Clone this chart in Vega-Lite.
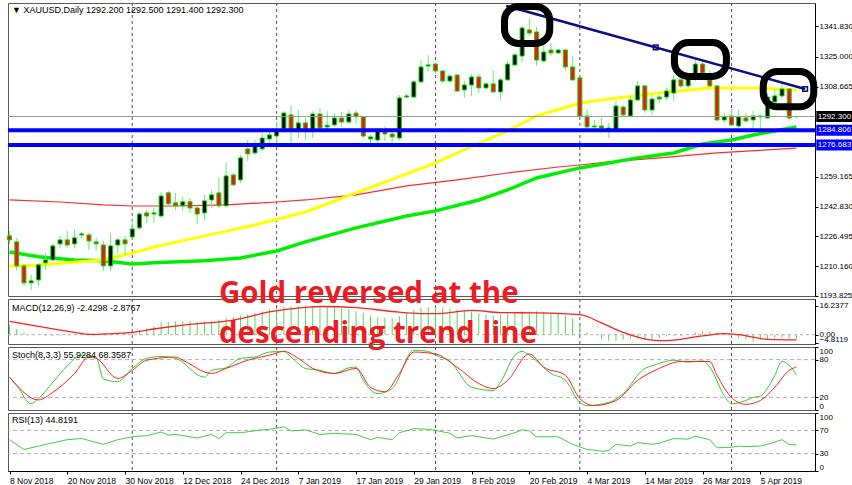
{
"$schema":"https://vega.github.io/schema/vega-lite/v6.json",
"background":"#ffffff",
"padding":{"left":2,"top":0,"right":0,"bottom":0},
"spacing":3,
"bounds":"flush",
"config":{"view":{"stroke":"#5a5a5a","strokeWidth":1},"axis":{"labelFont":"Liberation Sans","labelFontSize":8,"labelColor":"#000","domainColor":"#000","tickColor":"#000","grid":false,"labelOverlap":false,"labelBound":false},"text":{"font":"Liberation Sans"}},
"datasets":{
"candles":[
{"i":0,"o":1226.8,"h":1229.5,"l":1222.4,"c":1224.6},{"i":1,"o":1223.5,"h":1225.7,"l":1207.6,"c":1210.3},{"i":2,"o":1210.3,"h":1211.4,"l":1199.3,"c":1201.0},{"i":3,"o":1201.0,"h":1205.4,"l":1197.2,"c":1202.1},{"i":4,"o":1202.6,"h":1212.0,"l":1199.3,"c":1210.9},{"i":5,"o":1212.0,"h":1217.4,"l":1208.1,"c":1213.6},{"i":6,"o":1213.6,"h":1222.4,"l":1213.0,"c":1221.3},{"i":7,"o":1222.4,"h":1226.8,"l":1220.2,"c":1224.6},{"i":8,"o":1224.6,"h":1229.5,"l":1220.2,"c":1221.8},{"i":9,"o":1222.4,"h":1230.1,"l":1220.2,"c":1225.7},
{"i":10,"o":1227.3,"h":1229.0,"l":1225.1,"c":1227.9},{"i":11,"o":1227.3,"h":1228.4,"l":1219.1,"c":1224.0},{"i":12,"o":1223.5,"h":1225.7,"l":1218.5,"c":1222.4},{"i":13,"o":1221.8,"h":1224.0,"l":1207.6,"c":1210.3},{"i":14,"o":1210.3,"h":1228.4,"l":1207.6,"c":1221.3},{"i":15,"o":1221.8,"h":1225.7,"l":1217.4,"c":1224.6},{"i":16,"o":1224.6,"h":1226.8,"l":1216.3,"c":1222.4},{"i":17,"o":1226.2,"h":1235.6,"l":1224.6,"c":1230.6},{"i":18,"o":1231.2,"h":1239.9,"l":1230.1,"c":1238.8},{"i":19,"o":1239.4,"h":1241.0,"l":1233.9,"c":1237.7},
{"i":20,"o":1238.8,"h":1242.1,"l":1233.9,"c":1239.4},{"i":21,"o":1237.7,"h":1250.9,"l":1236.6,"c":1248.7},{"i":22,"o":1250.4,"h":1251.5,"l":1242.7,"c":1244.4},{"i":23,"o":1244.9,"h":1250.4,"l":1241.0,"c":1243.3},{"i":24,"o":1243.3,"h":1248.2,"l":1240.5,"c":1245.5},{"i":25,"o":1245.5,"h":1247.6,"l":1239.4,"c":1242.1},{"i":26,"o":1242.1,"h":1243.3,"l":1233.3,"c":1238.8},{"i":27,"o":1239.4,"h":1249.3,"l":1235.5,"c":1246.0},{"i":28,"o":1246.5,"h":1252.0,"l":1242.1,"c":1249.3},{"i":29,"o":1250.4,"h":1258.6,"l":1242.1,"c":1243.3},
{"i":30,"o":1243.3,"h":1266.8,"l":1242.7,"c":1259.7},{"i":31,"o":1260.2,"h":1261.3,"l":1254.2,"c":1254.8},{"i":32,"o":1257.5,"h":1271.2,"l":1255.9,"c":1269.6},{"i":33,"o":1274.5,"h":1279.4,"l":1267.9,"c":1271.8},{"i":34,"o":1272.3,"h":1279.4,"l":1271.2,"c":1276.2},{"i":35,"o":1274.5,"h":1284.4,"l":1274.0,"c":1280.5},{"i":36,"o":1280.0,"h":1284.9,"l":1276.7,"c":1282.2},{"i":37,"o":1281.6,"h":1289.3,"l":1277.8,"c":1284.4},{"i":38,"o":1285.5,"h":1295.3,"l":1284.9,"c":1294.2},{"i":39,"o":1293.2,"h":1298.6,"l":1276.2,"c":1284.9},
{"i":40,"o":1284.9,"h":1295.9,"l":1280.5,"c":1288.8},{"i":41,"o":1288.8,"h":1291.5,"l":1279.4,"c":1284.9},{"i":42,"o":1284.9,"h":1295.3,"l":1280.5,"c":1293.7},{"i":43,"o":1293.7,"h":1297.0,"l":1284.9,"c":1286.0},{"i":44,"o":1286.6,"h":1295.3,"l":1284.9,"c":1287.5},{"i":45,"o":1287.7,"h":1294.2,"l":1286.6,"c":1291.5},{"i":46,"o":1291.5,"h":1294.8,"l":1286.6,"c":1289.3},{"i":47,"o":1289.3,"h":1295.9,"l":1288.2,"c":1293.7},{"i":48,"o":1294.2,"h":1295.9,"l":1288.2,"c":1292.1},{"i":49,"o":1292.1,"h":1292.6,"l":1280.5,"c":1281.6},
{"i":50,"o":1280.0,"h":1282.2,"l":1276.2,"c":1281.1},{"i":51,"o":1279.4,"h":1286.0,"l":1276.7,"c":1284.9},{"i":52,"o":1284.9,"h":1287.1,"l":1278.9,"c":1282.7},{"i":53,"o":1282.7,"h":1284.9,"l":1277.8,"c":1281.1},{"i":54,"o":1280.5,"h":1304.1,"l":1279.4,"c":1302.5},{"i":55,"o":1303.0,"h":1304.7,"l":1302.5,"c":1303.6},{"i":56,"o":1303.0,"h":1312.4,"l":1302.5,"c":1311.3},{"i":57,"o":1311.3,"h":1323.3,"l":1310.7,"c":1319.5},{"i":58,"o":1320.0,"h":1326.1,"l":1317.3,"c":1320.6},{"i":59,"o":1321.1,"h":1321.7,"l":1315.6,"c":1317.3},
{"i":60,"o":1317.3,"h":1317.8,"l":1310.7,"c":1311.8},{"i":61,"o":1311.8,"h":1315.6,"l":1310.7,"c":1314.5},{"i":62,"o":1315.1,"h":1315.6,"l":1305.8,"c":1306.3},{"i":63,"o":1306.9,"h":1311.8,"l":1302.5,"c":1309.6},{"i":64,"o":1309.6,"h":1315.6,"l":1303.6,"c":1314.0},{"i":65,"o":1314.0,"h":1315.6,"l":1305.2,"c":1308.0},{"i":66,"o":1308.0,"h":1310.7,"l":1307.4,"c":1310.2},{"i":67,"o":1310.2,"h":1317.8,"l":1305.2,"c":1305.8},{"i":68,"o":1305.8,"h":1313.5,"l":1301.4,"c":1312.4},{"i":69,"o":1312.4,"h":1322.8,"l":1311.8,"c":1321.1},
{"i":70,"o":1320.6,"h":1327.2,"l":1320.0,"c":1326.1},{"i":71,"o":1325.5,"h":1342.0,"l":1322.2,"c":1340.9},{"i":72,"o":1339.8,"h":1346.4,"l":1336.5,"c":1338.1},{"i":73,"o":1338.7,"h":1341.4,"l":1320.0,"c":1323.3},{"i":74,"o":1322.8,"h":1332.7,"l":1322.2,"c":1327.7},{"i":75,"o":1328.8,"h":1332.7,"l":1325.5,"c":1327.2},{"i":76,"o":1327.2,"h":1329.4,"l":1326.6,"c":1328.8},{"i":77,"o":1328.8,"h":1329.4,"l":1317.8,"c":1319.5},{"i":78,"o":1319.5,"h":1325.5,"l":1311.8,"c":1312.4},{"i":79,"o":1313.5,"h":1314.5,"l":1292.1,"c":1292.6},
{"i":80,"o":1292.6,"h":1296.4,"l":1284.4,"c":1286.6},{"i":81,"o":1286.6,"h":1290.4,"l":1284.4,"c":1287.1},{"i":82,"o":1287.1,"h":1291.5,"l":1283.3,"c":1286.0},{"i":83,"o":1284.9,"h":1288.8,"l":1280.5,"c":1286.0},{"i":84,"o":1284.9,"h":1300.8,"l":1284.4,"c":1298.1},{"i":85,"o":1297.5,"h":1298.6,"l":1292.6,"c":1293.2},{"i":86,"o":1292.6,"h":1303.6,"l":1292.1,"c":1301.4},{"i":87,"o":1301.4,"h":1311.8,"l":1300.8,"c":1309.1},{"i":88,"o":1309.1,"h":1309.6,"l":1294.2,"c":1295.9},{"i":89,"o":1295.9,"h":1304.1,"l":1293.2,"c":1301.9},
{"i":90,"o":1303.0,"h":1304.1,"l":1299.7,"c":1301.9},{"i":91,"o":1303.0,"h":1308.0,"l":1301.4,"c":1306.3},{"i":92,"o":1305.2,"h":1315.1,"l":1300.8,"c":1312.4},{"i":93,"o":1312.4,"h":1316.2,"l":1308.0,"c":1309.1},{"i":94,"o":1309.1,"h":1316.2,"l":1308.0,"c":1314.5},{"i":95,"o":1315.1,"h":1324.4,"l":1311.8,"c":1321.1},{"i":96,"o":1321.1,"h":1323.3,"l":1315.1,"c":1316.2},{"i":97,"o":1312.4,"h":1317.8,"l":1308.5,"c":1309.1},{"i":98,"o":1309.1,"h":1309.6,"l":1289.9,"c":1290.4},{"i":99,"o":1290.4,"h":1294.2,"l":1288.8,"c":1292.1},
{"i":100,"o":1292.6,"h":1296.4,"l":1287.1,"c":1287.7},{"i":101,"o":1287.1,"h":1295.9,"l":1286.0,"c":1292.1},{"i":102,"o":1291.5,"h":1294.2,"l":1288.8,"c":1289.9},{"i":103,"o":1290.4,"h":1295.3,"l":1284.4,"c":1292.6},{"i":104,"o":1292.1,"h":1293.2,"l":1284.9,"c":1292.6},{"i":105,"o":1291.5,"h":1305.2,"l":1291.0,"c":1303.0},{"i":106,"o":1300.3,"h":1306.9,"l":1299.7,"c":1303.6},{"i":107,"o":1303.6,"h":1311.3,"l":1302.5,"c":1307.4},{"i":108,"o":1307.4,"h":1308.0,"l":1289.9,"c":1291.5},{"i":109,"o":1292.2,"h":1292.5,"l":1291.4,"c":1292.3}
],
"ma":[
{"s":"y","i":0,"v":1210.3},{"s":"y","i":4,"v":1210.8},{"s":"y","i":13,"v":1213.6},{"s":"y","i":17,"v":1217.4},{"s":"y","i":20,"v":1220.7},{"s":"y","i":27,"v":1226.8},{"s":"y","i":34,"v":1232.8},{"s":"y","i":41,"v":1239.9},{"s":"y","i":48,"v":1250.4},{"s":"y","i":55,"v":1260.8},{"s":"y","i":59,"v":1266.8},{"s":"y","i":62,"v":1272.3},{"s":"y","i":69,"v":1284.4},{"s":"y","i":73,"v":1292.6},{"s":"y","i":79,"v":1299.7},{"s":"y","i":83,"v":1301.9},{"s":"y","i":90,"v":1305.2},{"s":"y","i":97,"v":1308.0},{"s":"y","i":103,"v":1308.0},{"s":"y","i":109,"v":1306.9},
{"s":"g","i":0,"v":1218.0},{"s":"g","i":4,"v":1215.3},{"s":"g","i":9,"v":1213.6},{"s":"g","i":13,"v":1213.1},{"s":"g","i":17,"v":1211.4},{"s":"g","i":20,"v":1212.0},{"s":"g","i":27,"v":1213.1},{"s":"g","i":32,"v":1214.7},{"s":"g","i":37,"v":1218.5},{"s":"g","i":41,"v":1223.5},{"s":"g","i":48,"v":1231.2},{"s":"g","i":55,"v":1237.7},{"s":"g","i":59,"v":1240.5},{"s":"g","i":65,"v":1246.5},{"s":"g","i":69,"v":1252.0},{"s":"g","i":73,"v":1258.6},{"s":"g","i":79,"v":1264.1},{"s":"g","i":83,"v":1266.8},{"s":"g","i":87,"v":1269.6},{"s":"g","i":92,"v":1272.3},{"s":"g","i":96,"v":1277.2},{"s":"g","i":100,"v":1279.4},{"s":"g","i":103,"v":1282.2},{"s":"g","i":109,"v":1286.6},
{"s":"r","i":0,"v":1246.5},{"s":"r","i":7,"v":1245.4},{"s":"r","i":13,"v":1243.8},{"s":"r","i":17,"v":1243.2},{"s":"r","i":23,"v":1243.2},{"s":"r","i":30,"v":1243.8},{"s":"r","i":37,"v":1245.4},{"s":"r","i":41,"v":1246.5},{"s":"r","i":48,"v":1249.3},{"s":"r","i":55,"v":1254.2},{"s":"r","i":62,"v":1257.5},{"s":"r","i":69,"v":1261.3},{"s":"r","i":76,"v":1264.6},{"s":"r","i":79,"v":1265.7},{"s":"r","i":83,"v":1267.4},{"s":"r","i":90,"v":1269.6},{"s":"r","i":98,"v":1272.3},{"s":"r","i":109,"v":1275.0}
],
"macd":[
{"i":0,"m":5.6},{"i":1,"m":3.2},{"i":2,"m":1.3},{"i":3,"m":0.5},{"i":4,"m":0.1},{"i":5,"m":-0.6},{"i":6,"m":-0.8},{"i":7,"m":-0.6},{"i":8,"m":-0.3},{"i":9,"m":0.3},{"i":10,"m":0.8},{"i":11,"m":0.6},{"i":12,"m":0.4},{"i":13,"m":0.2},{"i":14,"m":0.5},{"i":15,"m":0.9},{"i":16,"m":1.3},{"i":17,"m":1.8},{"i":18,"m":2.8},{"i":19,"m":3.6},{"i":20,"m":4.7},{"i":21,"m":6.6},{"i":22,"m":7.2},{"i":23,"m":7.5},{"i":24,"m":7.6},{"i":25,"m":7.4},{"i":26,"m":7.2},{"i":27,"m":7.4},{"i":28,"m":7.8},{"i":29,"m":8.5},{"i":30,"m":9.5},{"i":31,"m":10.0},{"i":32,"m":10.8},{"i":33,"m":11.5},{"i":34,"m":12.2},{"i":35,"m":13.2},{"i":36,"m":14.2},{"i":37,"m":15.1},{"i":38,"m":15.7},{"i":39,"m":16.0},{"i":40,"m":16.2},{"i":41,"m":16.2},{"i":42,"m":16.2},{"i":43,"m":16.0},{"i":44,"m":15.6},{"i":45,"m":15.3},{"i":46,"m":14.9},{"i":47,"m":14.2},{"i":48,"m":13.2},{"i":49,"m":12.3},{"i":50,"m":10.8},{"i":51,"m":9.7},{"i":52,"m":9.5},{"i":53,"m":9.4},{"i":54,"m":10.4},{"i":55,"m":12.0},{"i":56,"m":14.0},{"i":57,"m":15.0},{"i":58,"m":15.5},{"i":59,"m":15.5},{"i":60,"m":15.0},{"i":61,"m":14.6},{"i":62,"m":14.0},{"i":63,"m":13.5},{"i":64,"m":12.9},{"i":65,"m":11.9},{"i":66,"m":11.3},{"i":67,"m":10.9},{"i":68,"m":11.3},{"i":69,"m":12.0},{"i":70,"m":12.5},{"i":71,"m":13.2},{"i":72,"m":13.2},{"i":73,"m":13.2},{"i":74,"m":12.8},{"i":75,"m":12.1},{"i":76,"m":11.6},{"i":77,"m":11.0},{"i":78,"m":9.2},{"i":79,"m":6.5},{"i":80,"m":1.4},{"i":81,"m":0.0},{"i":82,"m":-2.4},{"i":83,"m":-3.4},{"i":84,"m":-3.4},{"i":85,"m":-2.8},{"i":86,"m":-2.4},{"i":87,"m":-2.0},{"i":88,"m":-2.8},{"i":89,"m":-2.4},{"i":90,"m":-1.9},{"i":91,"m":-1.0},{"i":92,"m":-0.6},{"i":93,"m":-0.6},{"i":94,"m":0.0},{"i":95,"m":1.3},{"i":96,"m":1.8},{"i":97,"m":1.8},{"i":98,"m":0.9},{"i":99,"m":0.0},{"i":100,"m":-0.9},{"i":101,"m":-1.9},{"i":102,"m":-2.8},{"i":103,"m":-3.8},{"i":104,"m":-2.8},{"i":105,"m":-2.8},{"i":106,"m":-2.0},{"i":107,"m":-1.5},{"i":108,"m":-2.0},{"i":109,"m":-2.43}
],
"sig":[
{"i":0,"v":7.5},{"i":4,"v":4.7},{"i":9,"v":1.3},{"i":11,"v":0.2},{"i":13,"v":0.4},{"i":17,"v":1.3},{"i":20,"v":3.2},{"i":25,"v":5.8},{"i":30,"v":7.6},{"i":32,"v":9.0},{"i":36,"v":12.8},{"i":41,"v":15.3},{"i":43,"v":15.8},{"i":48,"v":15.2},{"i":53,"v":13.0},{"i":57,"v":11.8},{"i":59,"v":11.8},{"i":64,"v":13.6},{"i":68,"v":12.4},{"i":73,"v":12.2},{"i":79,"v":11.2},{"i":82,"v":6.6},{"i":85,"v":1.3},{"i":89,"v":-3.0},{"i":91,"v":-3.3},{"i":96,"v":-0.7},{"i":99,"v":0.6},{"i":101,"v":0.0},{"i":105,"v":-2.6},{"i":109,"v":-2.88}
],
"stk":[
{"i":0,"v":52},{"i":1,"v":39},{"i":3,"v":10},{"i":4,"v":18},{"i":6,"v":44},{"i":8,"v":70},{"i":10,"v":87},{"i":11,"v":86},{"i":12,"v":84},{"i":13,"v":49},{"i":15,"v":45},{"i":17,"v":66},{"i":19,"v":82},{"i":21,"v":85},{"i":23,"v":82},{"i":27,"v":52},{"i":28,"v":63},{"i":30,"v":67},{"i":32,"v":82},{"i":34,"v":84},{"i":36,"v":92},{"i":38,"v":93},{"i":39,"v":84},{"i":41,"v":66},{"i":43,"v":63},{"i":45,"v":58},{"i":47,"v":67},{"i":48,"v":68},{"i":49,"v":47},{"i":51,"v":26},{"i":53,"v":34},{"i":56,"v":95},{"i":58,"v":93},{"i":59,"v":87},{"i":61,"v":77},{"i":64,"v":36},{"i":67,"v":31},{"i":68,"v":44},{"i":70,"v":87},{"i":71,"v":93},{"i":72,"v":87},{"i":75,"v":58},{"i":77,"v":47},{"i":79,"v":12},{"i":80,"v":7},{"i":83,"v":12},{"i":85,"v":26},{"i":88,"v":66},{"i":89,"v":70},{"i":92,"v":79},{"i":94,"v":76},{"i":96,"v":78},{"i":97,"v":68},{"i":99,"v":23},{"i":100,"v":10},{"i":102,"v":15},{"i":103,"v":20},{"i":104,"v":22},{"i":105,"v":35},{"i":106,"v":55},{"i":107,"v":77},{"i":108,"v":71},{"i":109,"v":55.93}
],
"std":[
{"i":0,"v":52},{"i":1,"v":39},{"i":4,"v":16},{"i":6,"v":28},{"i":9,"v":58},{"i":11,"v":84},{"i":12,"v":82},{"i":15,"v":50},{"i":17,"v":63},{"i":19,"v":79},{"i":23,"v":84},{"i":24,"v":79},{"i":28,"v":58},{"i":30,"v":66},{"i":33,"v":79},{"i":36,"v":87},{"i":38,"v":93},{"i":40,"v":82},{"i":42,"v":66},{"i":45,"v":58},{"i":48,"v":66},{"i":50,"v":36},{"i":52,"v":29},{"i":54,"v":58},{"i":56,"v":92},{"i":59,"v":89},{"i":62,"v":68},{"i":65,"v":42},{"i":67,"v":34},{"i":69,"v":47},{"i":72,"v":89},{"i":74,"v":68},{"i":77,"v":55},{"i":79,"v":18},{"i":81,"v":7},{"i":84,"v":15},{"i":87,"v":47},{"i":90,"v":66},{"i":93,"v":77},{"i":97,"v":77},{"i":98,"v":55},{"i":100,"v":20},{"i":102,"v":9},{"i":104,"v":15},{"i":106,"v":36},{"i":108,"v":63},{"i":109,"v":68.36}
],
"rsi":[
{"i":0,"v":54},{"i":2,"v":37},{"i":4,"v":43},{"i":8,"v":54},{"i":10,"v":56},{"i":13,"v":46},{"i":15,"v":54},{"i":17,"v":59},{"i":19,"v":61},{"i":21,"v":67},{"i":22,"v":62},{"i":23,"v":63},{"i":26,"v":57},{"i":28,"v":63},{"i":29,"v":56},{"i":30,"v":66},{"i":32,"v":66},{"i":35,"v":71},{"i":36,"v":72},{"i":38,"v":76},{"i":39,"v":69},{"i":41,"v":71},{"i":43,"v":63},{"i":45,"v":65},{"i":48,"v":63},{"i":50,"v":54},{"i":51,"v":58},{"i":53,"v":54},{"i":54,"v":66},{"i":56,"v":73},{"i":58,"v":72},{"i":59,"v":70},{"i":61,"v":65},{"i":62,"v":57},{"i":64,"v":61},{"i":66,"v":57},{"i":67,"v":55},{"i":70,"v":66},{"i":71,"v":71},{"i":72,"v":69},{"i":73,"v":59},{"i":76,"v":59},{"i":78,"v":46},{"i":80,"v":37},{"i":81,"v":36},{"i":82,"v":34},{"i":83,"v":35},{"i":84,"v":46},{"i":86,"v":43},{"i":87,"v":49},{"i":89,"v":46},{"i":90,"v":48},{"i":92,"v":56},{"i":94,"v":55},{"i":95,"v":60},{"i":97,"v":54},{"i":98,"v":40},{"i":100,"v":41},{"i":101,"v":43},{"i":102,"v":42},{"i":104,"v":43},{"i":105,"v":46},{"i":107,"v":54},{"i":108,"v":46},{"i":109,"v":44.82}
],
"seps":[{"i":17},{"i":37},{"i":59},{"i":79},{"i":100}],
"levels":[{"k":"bid","p":1292.3},{"k":"s1","p":1284.806},{"k":"s2","p":1276.683}],
"trend":[{"i":68.8,"p":1353.0},{"i":110.2,"p":1307.4}],
"anchors":[{"i":89.5,"p":1330.2},{"i":110.2,"p":1307.4}],
"boxes":[{"a":68.56,"b":74.83,"p1":1352.7,"p2":1332.4},{"a":92.1,"b":99.3,"p1":1332.9,"p2":1314.3},{"a":104.4,"b":111.4,"p1":1317.0,"p2":1297.6}]
},
"vconcat":[
{"width":807,"height":293,
"layer":[
{"data":{"name":"seps"},"mark":{"type":"rule","stroke":"#555555","strokeDash":[3,3],"strokeWidth":1},"encoding":{"x":{"field":"i","type":"quantitative","scale":{"domain":[-0.21,111.57],"nice":false,"zero":false,"padding":0},"axis":null}}},
{"data":{"name":"ma"},"transform":[{"filter":"datum.s==='r'"}],"mark":{"type":"line","stroke":"#ff2a2a","strokeWidth":1.2},"encoding":{"x":{"field":"i","type":"quantitative","scale":{"domain":[-0.21,111.57],"nice":false,"zero":false,"padding":0},"axis":null},"y":{"field":"v","type":"quantitative","scale":{"domain":[1193.8,1354.6],"nice":false,"zero":false},"axis":{"orient":"right","title":null,"values":[1193.825,1210.16,1226.495,1242.83,1259.165,1308.665,1325,1341.83],"format":".3f","tickSize":3,"labelPadding":1,"labelOverlap":false,"labelBound":false,"grid":false}}}},
{"data":{"name":"ma"},"transform":[{"filter":"datum.s==='g'"}],"mark":{"type":"line","stroke":"#00ee00","strokeWidth":3.5},"encoding":{"x":{"field":"i","type":"quantitative","scale":{"domain":[-0.21,111.57],"nice":false,"zero":false,"padding":0},"axis":null},"y":{"field":"v","type":"quantitative","scale":{"domain":[1193.8,1354.6],"nice":false,"zero":false}}}},
{"data":{"name":"ma"},"transform":[{"filter":"datum.s==='y'"}],"mark":{"type":"line","stroke":"#ffff00","strokeWidth":3},"encoding":{"x":{"field":"i","type":"quantitative","scale":{"domain":[-0.21,111.57],"nice":false,"zero":false,"padding":0},"axis":null},"y":{"field":"v","type":"quantitative","scale":{"domain":[1193.8,1354.6],"nice":false,"zero":false}}}},
{"data":{"name":"candles"},"mark":{"type":"rule","stroke":"#66ee66","strokeWidth":1},"encoding":{"x":{"field":"i","type":"quantitative","scale":{"domain":[-0.21,111.57],"nice":false,"zero":false,"padding":0},"axis":null},"y":{"field":"l","type":"quantitative","scale":{"domain":[1193.8,1354.6],"nice":false,"zero":false}},"y2":{"field":"h"}}},
{"data":{"name":"candles"},"mark":{"type":"bar","size":4,"stroke":"#00dd00","strokeWidth":1},"encoding":{"x":{"field":"i","type":"quantitative","scale":{"domain":[-0.21,111.57],"nice":false,"zero":false,"padding":0},"axis":null},"y":{"field":"o","type":"quantitative","scale":{"domain":[1193.8,1354.6],"nice":false,"zero":false}},"y2":{"field":"c"},"fill":{"condition":{"test":"datum.c>=datum.o","value":"#000000"},"value":"#ff1010"}}},
{"data":{"name":"levels"},"transform":[{"filter":"datum.k==='bid'"}],"mark":{"type":"rule","stroke":"#9a9a9a","strokeWidth":1},"encoding":{"y":{"field":"p","type":"quantitative","scale":{"domain":[1193.8,1354.6],"nice":false,"zero":false}}}},
{"data":{"name":"levels"},"transform":[{"filter":"datum.k!=='bid'"}],"mark":{"type":"rule","stroke":"#0000ff","strokeWidth":4},"encoding":{"y":{"field":"p","type":"quantitative","scale":{"domain":[1193.8,1354.6],"nice":false,"zero":false}}}},
{"data":{"name":"trend"},"mark":{"type":"line","stroke":"#0c0c84","strokeWidth":2.5},"encoding":{"x":{"field":"i","type":"quantitative","scale":{"domain":[-0.21,111.57],"nice":false,"zero":false,"padding":0},"axis":null},"y":{"field":"p","type":"quantitative","scale":{"domain":[1193.8,1354.6],"nice":false,"zero":false}}}},
{"data":{"name":"anchors"},"mark":{"type":"point","shape":"square","size":22,"filled":false,"stroke":"#0c0c84","strokeWidth":1.5,"opacity":1},"encoding":{"x":{"field":"i","type":"quantitative","scale":{"domain":[-0.21,111.57],"nice":false,"zero":false,"padding":0},"axis":null},"y":{"field":"p","type":"quantitative","scale":{"domain":[1193.8,1354.6],"nice":false,"zero":false}}}},
{"data":{"name":"boxes"},"mark":{"type":"rect","fill":"#ffffff","fillOpacity":0,"stroke":"#000000","strokeWidth":7,"cornerRadius":14},"encoding":{"x":{"field":"a","type":"quantitative","scale":{"domain":[-0.21,111.57],"nice":false,"zero":false,"padding":0},"axis":null},"x2":{"field":"b"},"y":{"field":"p1","type":"quantitative","scale":{"domain":[1193.8,1354.6],"nice":false,"zero":false}},"y2":{"field":"p2"}}},
{"data":{"name":"levels"},"mark":{"type":"rect","height":11},"encoding":{"x":{"datum":111.75,"type":"quantitative","scale":{"domain":[-0.21,111.57],"nice":false,"zero":false,"padding":0},"axis":null},"x2":{"datum":117.2},"y":{"field":"p","type":"quantitative","scale":{"domain":[1193.8,1354.6],"nice":false,"zero":false}},"fill":{"condition":{"test":"datum.k==='bid'","value":"#000000"},"value":"#0000ff"}}},
{"data":{"name":"levels"},"mark":{"type":"text","align":"left","baseline":"middle","fill":"#ffffff","fontSize":8,"font":"Liberation Sans"},"encoding":{"x":{"datum":111.95,"type":"quantitative","scale":{"domain":[-0.21,111.57],"nice":false,"zero":false,"padding":0},"axis":null},"y":{"field":"p","type":"quantitative","scale":{"domain":[1193.8,1354.6],"nice":false,"zero":false}},"text":{"field":"p","type":"quantitative","format":".3f"}}},
{"data":{"values":[{}]},"mark":{"type":"text","text":"▼ XAUUSD,Daily  1292.200 1292.500 1291.400 1292.300","align":"left","baseline":"middle","fontSize":9,"font":"Liberation Sans","fill":"#000000"},"encoding":{"x":{"datum":0.35,"type":"quantitative","scale":{"domain":[-0.21,111.57],"nice":false,"zero":false,"padding":0},"axis":null},"y":{"datum":1350.6,"type":"quantitative","scale":{"domain":[1193.8,1354.6],"nice":false,"zero":false}}}}
]},
{"width":807,"height":45,
"resolve":{"axis":{"y":"independent"}},
"layer":[
{"data":{"name":"seps"},"mark":{"type":"rule","stroke":"#555555","strokeDash":[3,3],"strokeWidth":1},"encoding":{"x":{"field":"i","type":"quantitative","scale":{"domain":[-0.21,111.57],"nice":false,"zero":false,"padding":0},"axis":null}}},
{"data":{"values":[{"v":0}]},"mark":{"type":"rule","stroke":"#b0b0b0","strokeDash":[3,3],"strokeWidth":1},"encoding":{"y":{"field":"v","type":"quantitative","scale":{"domain":[-5.2,20.0],"nice":false,"zero":false},"axis":{"orient":"right","title":null,"values":[16.2377,0,-4.8119],"labelExpr":"datum.value===0?'0.00':format(datum.value,'.4f')","labelBaseline":{"condition":{"test":"datum.value<0","value":"bottom"},"value":"middle"},"tickSize":3,"labelPadding":1,"labelOverlap":false,"labelBound":false,"grid":false}}}},
{"data":{"name":"macd"},"mark":{"type":"rule","stroke":"#55d855","strokeWidth":1},"encoding":{"x":{"field":"i","type":"quantitative","scale":{"domain":[-0.21,111.57],"nice":false,"zero":false,"padding":0},"axis":null},"y":{"field":"m","type":"quantitative","scale":{"domain":[-5.2,20.0],"nice":false,"zero":false},"axis":null},"y2":{"datum":0}}},
{"data":{"name":"sig"},"mark":{"type":"line","stroke":"#ff2020","strokeWidth":1.3,"interpolate":"monotone"},"encoding":{"x":{"field":"i","type":"quantitative","scale":{"domain":[-0.21,111.57],"nice":false,"zero":false,"padding":0},"axis":null},"y":{"field":"v","type":"quantitative","scale":{"domain":[-5.2,20.0],"nice":false,"zero":false},"axis":null}}},
{"data":{"values":[{}]},"mark":{"type":"text","text":"MACD(12,26,9) -2.4298 -2.8767","align":"left","baseline":"middle","fontSize":9,"font":"Liberation Sans","fill":"#000000"},"encoding":{"x":{"datum":0.35,"type":"quantitative","scale":{"domain":[-0.21,111.57],"nice":false,"zero":false,"padding":0},"axis":null},"y":{"datum":15.0,"type":"quantitative","scale":{"domain":[-5.2,20.0],"nice":false,"zero":false},"axis":null}}},
{"data":{"values":[{}]},"mark":{"type":"text","text":"Gold reversed at the","align":"left","baseline":"alphabetic","fontSize":29.5,"fontWeight":"bold","font":"Open Sans","fill":"#ec1c24"},"encoding":{"x":{"datum":29.0,"type":"quantitative","scale":{"domain":[-0.21,111.57],"nice":false,"zero":false,"padding":0},"axis":null},"y":{"datum":17.76,"type":"quantitative","scale":{"domain":[-5.2,20.0],"nice":false,"zero":false},"axis":null}}},
{"data":{"values":[{}]},"mark":{"type":"text","text":"descending trend line","align":"left","baseline":"alphabetic","fontSize":29.5,"fontWeight":"bold","font":"Open Sans","fill":"#ec1c24"},"encoding":{"x":{"datum":29.0,"type":"quantitative","scale":{"domain":[-0.21,111.57],"nice":false,"zero":false,"padding":0},"axis":null},"y":{"datum":-4.64,"type":"quantitative","scale":{"domain":[-5.2,20.0],"nice":false,"zero":false},"axis":null}}}
]},
{"width":807,"height":63,
"resolve":{"axis":{"y":"independent"}},
"layer":[
{"data":{"name":"seps"},"mark":{"type":"rule","stroke":"#555555","strokeDash":[3,3],"strokeWidth":1},"encoding":{"x":{"field":"i","type":"quantitative","scale":{"domain":[-0.21,111.57],"nice":false,"zero":false,"padding":0},"axis":null}}},
{"data":{"values":[{"v":20},{"v":80}]},"mark":{"type":"rule","stroke":"#b0b0b0","strokeDash":[4,3],"strokeWidth":1},"encoding":{"y":{"field":"v","type":"quantitative","scale":{"domain":[0,100],"nice":false,"zero":false},"axis":{"orient":"right","title":null,"values":[100,80,20,0],"tickSize":3,"labelPadding":1,"labelOverlap":false,"labelFlush":true,"labelBound":false,"grid":false}}}},
{"data":{"name":"stk"},"mark":{"type":"line","stroke":"#33cc33","strokeWidth":1,"interpolate":"monotone"},"encoding":{"x":{"field":"i","type":"quantitative","scale":{"domain":[-0.21,111.57],"nice":false,"zero":false,"padding":0},"axis":null},"y":{"field":"v","type":"quantitative","scale":{"domain":[0,100],"nice":false,"zero":false},"axis":null}}},
{"data":{"name":"std"},"mark":{"type":"line","stroke":"#ff2020","strokeWidth":1,"interpolate":"monotone"},"encoding":{"x":{"field":"i","type":"quantitative","scale":{"domain":[-0.21,111.57],"nice":false,"zero":false,"padding":0},"axis":null},"y":{"field":"v","type":"quantitative","scale":{"domain":[0,100],"nice":false,"zero":false},"axis":null}}},
{"data":{"values":[{}]},"mark":{"type":"text","text":"Stoch(8,3,3) 55.9284 68.3587","align":"left","baseline":"middle","fontSize":9,"font":"Liberation Sans","fill":"#000000"},"encoding":{"x":{"datum":0.35,"type":"quantitative","scale":{"domain":[-0.21,111.57],"nice":false,"zero":false,"padding":0},"axis":null},"y":{"datum":87.3,"type":"quantitative","scale":{"domain":[0,100],"nice":false,"zero":false},"axis":null}}}
]},
{"width":807,"height":58,
"resolve":{"axis":{"y":"independent"}},
"layer":[
{"data":{"name":"seps"},"mark":{"type":"rule","stroke":"#555555","strokeDash":[3,3],"strokeWidth":1},"encoding":{"x":{"field":"i","type":"quantitative","scale":{"domain":[-0.21,111.57],"nice":false,"zero":false,"padding":0}}}},
{"data":{"values":[{"v":30},{"v":70}]},"mark":{"type":"rule","stroke":"#b0b0b0","strokeDash":[4,3],"strokeWidth":1},"encoding":{"y":{"field":"v","type":"quantitative","scale":{"domain":[0,100],"nice":false,"zero":false},"axis":{"orient":"right","title":null,"values":[100,70,30,0],"tickSize":3,"labelPadding":1,"labelOverlap":false,"labelFlush":true,"labelBound":false,"grid":false}}}},
{"data":{"name":"rsi"},"mark":{"type":"line","stroke":"#44cc44","strokeWidth":1},"encoding":{"x":{"field":"i","type":"quantitative","scale":{"domain":[-0.21,111.57],"nice":false,"zero":false,"padding":0},"axis":{"orient":"bottom","title":null,"values":[0,8,16,24,32,40,48,56,64,72,80,88,96,104],"labelExpr":"['8 Nov 2018','20 Nov 2018','30 Nov 2018','12 Dec 2018','24 Dec 2018','7 Jan 2019','17 Jan 2019','29 Jan 2019','8 Feb 2019','20 Feb 2019','4 Mar 2019','14 Mar 2019','26 Mar 2019','5 Apr 2019'][round(datum.value/8)]","labelAlign":"left","labelDx":-2,"tickSize":3,"labelPadding":2,"labelOverlap":false,"labelFlush":false,"labelBound":false,"labelFontSize":8.5,"grid":false}},"y":{"field":"v","type":"quantitative","scale":{"domain":[0,100],"nice":false,"zero":false},"axis":null}}},
{"data":{"values":[{}]},"mark":{"type":"text","text":"RSI(13) 44.8191","align":"left","baseline":"middle","fontSize":9,"font":"Liberation Sans","fill":"#000000"},"encoding":{"x":{"datum":0.35,"type":"quantitative","scale":{"domain":[-0.21,111.57],"nice":false,"zero":false,"padding":0}},"y":{"datum":87.4,"type":"quantitative","scale":{"domain":[0,100],"nice":false,"zero":false},"axis":null}}}
]}
]
}
